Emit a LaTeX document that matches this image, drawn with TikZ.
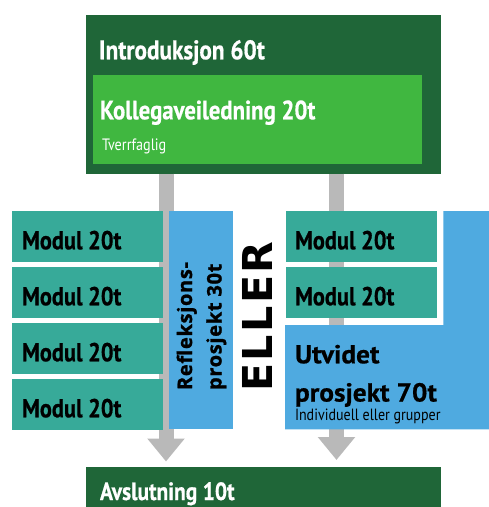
\documentclass[tikz,border=0pt]{standalone}
\usepackage{fontspec}
\setmainfont{PT Sans}
\newfontfamily\condf{PT Sans}[FakeStretch=0.86, BoldFeatures={FakeBold=0.6}]
\newfontfamily\condw{PT Sans}[FakeStretch=1.05, BoldFeatures={FakeBold=0.6}]
\newfontfamily\reflf{Open Sans}[LetterSpace=3.5, BoldFeatures={FakeBold=1.2}]
\newfontfamily\ellerf{DejaVu Sans}[LetterSpace=6]
\usetikzlibrary{arrows.meta}
\definecolor{dkgreen}{HTML}{1F6638}
\definecolor{ltgreen}{HTML}{40B740}
\definecolor{teal}{HTML}{37AA99}
\definecolor{skyblue}{HTML}{4FAAE0}
\definecolor{pillargray}{HTML}{B9B9B9}
\begin{document}
\begin{tikzpicture}[x=1pt,y=-1pt,
  box/.style={inner sep=0pt, outer sep=0pt, anchor=north west},
  lbl/.style={inner sep=0pt, outer sep=0pt, anchor=base west},
  modbox/.style={box, fill=teal, minimum width=151pt, minimum height=50.7pt},
  modtxt/.style={lbl, text=black, font=\condf\bfseries\fontsize{26}{28}\selectfont},
  pillar/.style={draw=pillargray, line width=15pt, -{Triangle[width=36pt,length=23pt]}}
]
\useasboundingbox (0,0) rectangle (489,507);
\coordinate (lx) at (166,0);
\coordinate (rx) at (336.5,0);

% frames
\node[box, fill=dkgreen, minimum width=355pt, minimum height=158.5pt] (intro) at (86,15) {};
\node[box, fill=dkgreen, minimum width=355pt, minimum height=40pt] (closing) at (86,467) {};

% pillars
\draw[pillar, shorten >=5.5pt] (intro.south -| lx) -- (closing.north -| lx);
\draw[pillar, shorten >=7pt] (intro.south -| rx) -- (closing.north -| rx);

\node[box, fill=ltgreen, minimum width=329pt, minimum height=88.5pt] (kollega) at (93,75) {};

% left column
\node[modbox] (m1) at (12,211) {};
\node[modbox] (m2) at (12,267) {};
\node[modbox] (m3) at (12,323) {};
\node[modbox] (m4) at (12,379) {};
\node[box, fill=skyblue, minimum width=63.7pt, minimum height=217.7pt] (refl) at (169,211) {};

% right column
\node[modbox, minimum width=150.7pt] (r1) at (286,211) {};
\node[modbox, minimum width=150.7pt] (r2) at (286,267) {};
\fill[skyblue] (285,325) -- (443.3,325) -- (443.3,211) -- (489,211) -- (489,429.3) -- (285,429.3) -- cycle;

% texts
\node[lbl, text=white, font=\condf\bfseries\fontsize{27}{30}\selectfont] (tintro) at (99,59.3) {Introduksjon 60t};
\node[lbl, text=white, font=\condf\bfseries\fontsize{26.5}{30}\selectfont] (tkoll) at (100,119.3) {Kollegaveiledning 20t};
\node[lbl, text=white, font=\condf\fontsize{16.5}{20}\selectfont] (ttverr) at (102,150) {Tverrfaglig};

\node[modtxt] (tm1) at (22,249.3) {Modul 20t};
\node[modtxt] (tm2) at (22,305.3) {Modul 20t};
\node[modtxt] (tm3) at (22,361.3) {Modul 20t};
\node[modtxt] (tm4) at (22,417.3) {Modul 20t};
\node[modtxt] (tr1) at (295,249.3) {Modul 20t};
\node[modtxt] (tr2) at (295,305.3) {Modul 20t};

\node[lbl, rotate=90, font=\reflf\bfseries\fontsize{20}{22}\selectfont] (trefl1) at (192,390) {Refleksjons-};
\node[lbl, rotate=90, font=\reflf\bfseries\fontsize{20}{22}\selectfont] (trefl2) at (221.5,390) {prosjekt 30t};

\node[lbl, rotate=90, font=\ellerf\bfseries\fontsize{41.2}{44}\selectfont] (eller) at (272.7,391.7) {ELLER};

\node[lbl, font=\condw\bfseries\fontsize{26}{28}\selectfont] (tutv1) at (295,363.3) {Utvidet};
\node[lbl, font=\condw\bfseries\fontsize{26}{28}\selectfont] (tutv2) at (295,401.5) {prosjekt 70t};
\node[lbl, font=\condf\fontsize{16.3}{18}\selectfont] (tind) at (295,420) {Individuell eller grupper};

\node[lbl, text=white, font=\condf\bfseries\fontsize{25}{30}\selectfont] (tavsl) at (100,500) {Avslutning 10t};
\end{tikzpicture}
\end{document}
